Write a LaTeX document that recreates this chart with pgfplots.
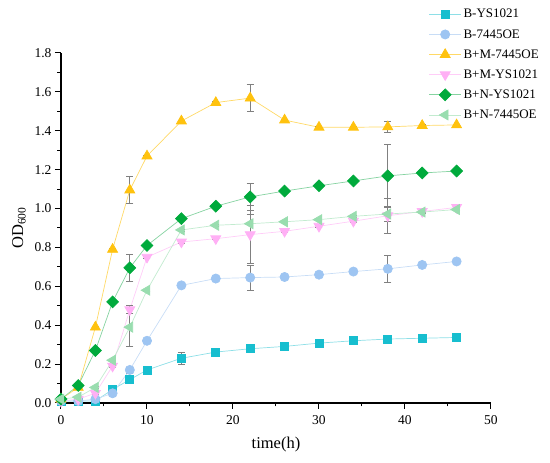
\documentclass[border=0pt]{standalone}
\usepackage{fontspec}
\setmainfont{Liberation Serif}
\usepackage{pgfplots}
\pgfplotsset{compat=1.18}
\usepackage{pgfplotstable}
\definecolor{cyanM}{HTML}{17BECF}
\definecolor{cyanL}{HTML}{8EDFE7}
\definecolor{blueM}{HTML}{9EC5F2}
\definecolor{blueL}{HTML}{C8DDF6}
\definecolor{orangeM}{HTML}{FFC20E}
\definecolor{orangeL}{HTML}{FFD966}
\definecolor{pinkM}{HTML}{FFB0F5}
\definecolor{pinkL}{HTML}{FFCDF8}
\definecolor{greenM}{HTML}{00AA3C}
\definecolor{greenL}{HTML}{86D3A1}
\definecolor{lgreenM}{HTML}{99DDAF}
\definecolor{lgreenL}{HTML}{C2EBCF}
\definecolor{errC}{HTML}{808080}

\pgfplotstableread{
t y e
0 0.010 0.005
2 0.010 0.005
4 0.010 0.010
6 0.070 0.010
8 0.120 0.010
10 0.170 0.010
14 0.230 0.030
18 0.262 0.010
22 0.279 0.010
26 0.291 0.010
30 0.308 0.010
34 0.320 0.010
38 0.329 0.010
42 0.333 0.010
46 0.337 0.010
}\tA
\pgfplotstableread{
t y e
0 0.010 0.005
2 0.010 0.005
4 0.020 0.010
6 0.050 0.015
8 0.170 0.015
10 0.320 0.005
14 0.605 0.005
18 0.640 0.005
22 0.645 0.065
26 0.648 0.005
30 0.660 0.005
34 0.676 0.005
38 0.690 0.070
42 0.710 0.005
46 0.728 0.005
}\tB
\pgfplotstableread{
t y e
0 0.020 0.005
2 0.080 0.005
4 0.390 0.005
6 0.790 0.005
8 1.095 0.070
10 1.270 0.005
14 1.450 0.005
18 1.545 0.005
22 1.568 0.070
26 1.455 0.005
30 1.418 0.005
34 1.418 0.005
38 1.420 0.030
42 1.427 0.005
46 1.430 0.005
}\tC
\pgfplotstableread{
t y e
0 0.010 0.005
2 0.020 0.005
4 0.050 0.005
6 0.190 0.005
8 0.480 0.020
10 0.750 0.005
14 0.828 0.005
18 0.845 0.005
22 0.866 0.150
26 0.883 0.005
30 0.909 0.005
34 0.935 0.005
38 0.963 0.090
42 0.985 0.005
46 1.006 0.005
}\tD
\pgfplotstableread{
t y e
0 0.020 0.005
2 0.090 0.005
4 0.270 0.005
6 0.520 0.005
8 0.695 0.070
10 0.810 0.005
14 0.948 0.005
18 1.012 0.005
22 1.060 0.070
26 1.090 0.005
30 1.117 0.005
34 1.142 0.005
38 1.168 0.160
42 1.183 0.005
46 1.193 0.005
}\tE
\pgfplotstableread{
t y e
0 0.020 0.005
2 0.030 0.005
4 0.080 0.005
6 0.220 0.005
8 0.390 0.100
10 0.580 0.005
14 0.890 0.005
18 0.914 0.005
22 0.922 0.050
26 0.932 0.005
30 0.943 0.005
34 0.960 0.005
38 0.972 0.040
42 0.982 0.005
46 0.995 0.005
}\tF

\begin{document}
\begin{tikzpicture}
\useasboundingbox (-61pt,-60pt) rectangle (489pt,403pt);
\begin{axis}[
  at={(0pt,0pt)}, anchor=south west,
  scale only axis, width=430pt, height=350pt,
  xmin=0, xmax=50, ymin=0, ymax=1.8,
  axis lines*=left,
  axis line style={line width=1.1pt, black},
  tick align=outside,
  major tick length=6pt, minor tick length=3.5pt,
  every tick/.style={line width=1pt, black},
  xtick={0,10,20,30,40,50}, minor x tick num=1,
  ytick={0,0.2,0.4,0.6,0.8,1.0,1.2,1.4,1.6,1.8}, minor y tick num=1,
  /pgf/number format/assume math mode=true,
  y tick label style={/pgf/number format/.cd, fixed, fixed zerofill, precision=1},
  ticklabel style={font=\fontsize{13.5}{15}\selectfont},
  x tick label style={yshift=-3pt},
  xlabel={time(h)}, ylabel={OD\textsubscript{600}},
  label style={font=\fontsize{16.5}{19}\selectfont},
  xlabel style={yshift=-6pt},
  ylabel style={yshift=2pt},
  clip=false,
  legend cell align=left,
  legend style={draw=none, fill=none, at={(0.848,1.137)}, anchor=north west,
    font=\fontsize{13}{15}\selectfont, row sep=6pt,
    /tikz/every even column/.append style={column sep=3pt}},
  legend image code/.code={\draw[mark repeat=2,mark phase=2,#1] plot coordinates {(0pt,0pt) (16pt,0pt) (32pt,0pt)};},
  error bars/error bar style={line width=0.7pt, errC, solid},
  error bars/error mark options={rotate=90, mark size=3.5pt, line width=0.7pt, errC, solid},
]
\addplot[cyanL, line width=0.7pt, mark=square*, mark size=4pt, mark options={fill=cyanM, draw=cyanM},
  error bars/.cd, y dir=both, y explicit] table[x=t, y=y, y error=e] {\tA};
\addlegendentry{B-YS1021}
\addplot[blueL, line width=0.7pt, mark=*, mark size=4.6pt, mark options={fill=blueM, draw=blueM},
  error bars/.cd, y dir=both, y explicit] table[x=t, y=y, y error=e] {\tB};
\addlegendentry{B-7445OE}
\addplot[orangeL, line width=0.7pt, mark=triangle*, mark size=5.8pt, mark options={fill=orangeM, draw=orangeM},
  error bars/.cd, y dir=both, y explicit] table[x=t, y=y, y error=e] {\tC};
\addlegendentry{B+M-7445OE}
\addplot[pinkL, line width=0.7pt, mark=triangle*, mark size=5.8pt, mark options={fill=pinkM, draw=pinkM, rotate=180},
  error bars/.cd, y dir=both, y explicit] table[x=t, y=y, y error=e] {\tD};
\addlegendentry{B+M-YS1021}
\addplot[greenL, line width=0.7pt, mark=square*, mark size=4.2pt, mark options={fill=greenM, draw=greenM, rotate=45},
  error bars/.cd, y dir=both, y explicit] table[x=t, y=y, y error=e] {\tE};
\addlegendentry{B+N-YS1021}
\addplot[lgreenL, line width=0.7pt, mark=triangle*, mark size=5.8pt, mark options={fill=lgreenM, draw=lgreenM, rotate=90},
  error bars/.cd, y dir=both, y explicit] table[x=t, y=y, y error=e] {\tF};
\addlegendentry{B+N-7445OE}
\end{axis}
\end{tikzpicture}
\end{document}
